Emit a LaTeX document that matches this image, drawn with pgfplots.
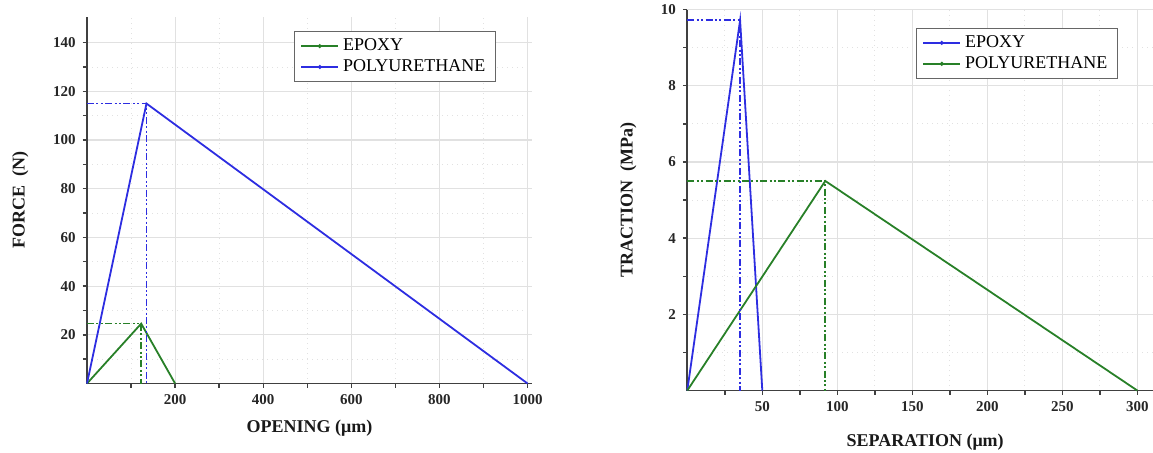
\documentclass[border=0pt]{standalone}
\usepackage{fontspec}
\setmainfont{Liberation Serif}
\usepackage{pgfplots}
\pgfplotsset{compat=1.18}
\definecolor{cblue}{RGB}{45,45,225}
\definecolor{cgreen}{RGB}{40,128,40}
\definecolor{gridc}{RGB}{225,225,225}
\pgfplotsset{
  common/.style={
    scale only axis,
    axis x line*=bottom, axis y line*=left,
    axis line style={black!75, line width=0.9pt},
    tick align=outside,
    major tick length=2.2pt, minor tick length=2pt,
    every tick/.style={black!75, line width=0.7pt},
    grid=both,
    major grid style={gridc, line width=0.6pt},
    minor grid style={gridc, line width=0.5pt, dotted},
    /pgf/number format/assume math mode=true,
    /pgf/number format/set thousands separator={},
    ticklabel style={font=\fontsize{7.5}{9}\selectfont\bfseries, black!85},
    label style={font=\fontsize{9}{11}\selectfont\bfseries, black!90},
    legend style={font=\fontsize{9}{11}\selectfont, draw=black!60, line width=0.6pt,
      inner xsep=3pt, inner ysep=1.5pt, row sep=-1pt},
    legend cell align=left,
    legend image code/.code={\draw[#1, line width=0.8pt] (0cm,0cm) -- (0.65cm,0cm);
      \fill[#1] (0.325cm,0cm) circle (0.5pt);},
    clip=false,
  },
  dl/.style={line width=0.85pt, dash pattern=on 3.5pt off 1.2pt on 1pt off 1.2pt on 1pt off 1.2pt, forget plot},
}
\begin{document}
\begin{tikzpicture}
\pgfpathrectangle{\pgfpoint{0pt}{-226pt}}{\pgfpoint{576.5pt}{226pt}}
\pgfusepath{use as bounding box}
% Left panel
\begin{axis}[common,
  at={(43.5pt,-191.75pt)}, anchor=south west,
  width=222.5pt, height=183.2pt,
  xmin=0, xmax=1010, ymin=0, ymax=150.5,
  xtick={200,400,600,800,1000}, minor xtick={100,300,500,700,900},
  ytick={20,40,60,80,100,120,140}, minor ytick={10,30,50,70,90,110,130},
  xlabel={OPENING (μm)}, ylabel={FORCE\ \ (N)},
  xlabel style={at={(axis description cs:0.5,-0.123)}, anchor=center},
  ylabel style={at={(axis description cs:-0.150,0.5)}, anchor=center},
  legend style={at={(0.465,0.962)}, anchor=north west},
]
\addplot[cgreen, line width=0.9pt] coordinates {(0,0) (123,24.6) (200,0)};
\addlegendentry{EPOXY}
\addplot[cblue, line width=0.9pt] coordinates {(0,0) (135,115) (1000,0)};
\addlegendentry{POLYURETHANE}
\addplot[cblue, dl] coordinates {(0,115) (135,115) (135,0)};
\addplot[cgreen, dl] coordinates {(0,24.6) (123,24.6) (123,0)};
\end{axis}
% Right panel
\begin{axis}[common,
  at={(343.65pt,-195.25pt)}, anchor=south west,
  width=233.25pt, height=190.5pt,
  xmin=0, xmax=311, ymin=0, ymax=10,
  xtick={50,100,150,200,250,300}, minor xtick={25,75,125,175,225,275},
  ytick={2,4,6,8,10}, minor ytick={1,3,5,7,9},
  xlabel={SEPARATION (μm)}, ylabel={TRACTION\ \ (MPa)},
  xlabel style={at={(axis description cs:0.51,-0.135)}, anchor=center},
  ylabel style={at={(axis description cs:-0.1265,0.5)}, anchor=center},
  legend style={at={(0.490,0.952)}, anchor=north west},
]
\addplot[cblue, line width=0.9pt] coordinates {(0,0) (35.2,9.72) (50,0)};
\addlegendentry{EPOXY}
\addplot[cgreen, line width=0.9pt] coordinates {(0,0) (92,5.5) (300,0)};
\addlegendentry{POLYURETHANE}
\addplot[cblue, dl] coordinates {(0,9.72) (35.2,9.72) (35.2,0)};
\addplot[cgreen, dl] coordinates {(0,5.5) (92,5.5) (92,0)};
\end{axis}
\end{tikzpicture}
\end{document}
